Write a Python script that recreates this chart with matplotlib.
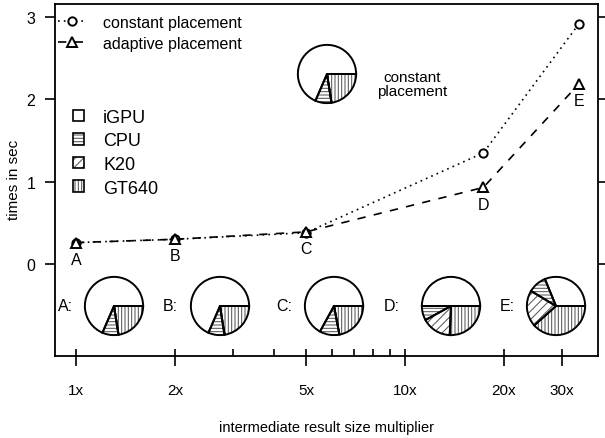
import matplotlib
matplotlib.use("Agg")
import matplotlib.pyplot as plt
from matplotlib.patches import Patch
from matplotlib.ticker import FixedLocator, NullFormatter

plt.rcParams['font.family'] = ['Liberation Sans', 'DejaVu Sans']
plt.rcParams['hatch.linewidth'] = 0.75

# data
multiplier = [1, 2, 5, 17.3, 33.8]
letters = ['A', 'B', 'C', 'D', 'E']
constant = [0.26, 0.30, 0.38, 1.35, 2.92]
adaptive = [0.26, 0.30, 0.39, 0.93, 2.19]

devices = ['iGPU', 'CPU', 'K20', 'GT640']
hatches = ['', '-----', '////', '|||||']
share_constant = [0.685, 0.09, 0.0, 0.225]
share_A = [0.685, 0.09, 0.0, 0.225]
share_B = [0.685, 0.09, 0.0, 0.225]
share_C = [0.67, 0.11, 0.0, 0.22]
share_D = [0.50, 0.08, 0.163, 0.257]
share_E = [0.312, 0.102, 0.202, 0.384]

xticks = [1, 2, 5, 10, 20, 30]
xticklabels = ['1x', '2x', '5x', '10x', '20x', '30x']
yticks = [0, 1, 2, 3]

W, H = 605, 439
fig = plt.figure(figsize=(W / 100, H / 100), dpi=100)


def fx(px):
    return px / W


def fy(py):
    return 1 - py / H


ax = fig.add_axes([fx(55), fy(357), fx(543), 352 / H])
ax.set_xscale('log')
ax.set_xlim(0.863, 38.6)
ax.set_ylim(-1.118, 3.159)

ax.plot(multiplier, constant, linestyle=(0, (1, 2.5)), color='black', lw=1.2,
        marker='o', ms=6, mfc='white', mec='black', mew=1.4,
        label='constant placement')
ax.plot(multiplier, adaptive, linestyle=(0, (5, 5)), color='black', lw=1.2,
        marker='^', ms=7, mfc='white', mec='black', mew=1.4,
        label='adaptive placement')

for x, y, t in zip(multiplier, adaptive, letters):
    ax.annotate(t, (x, y), xytext=(0, -12), textcoords='offset points',
                ha='center', va='center', fontsize=11.5)

# axes styling
for s in ax.spines.values():
    s.set_linewidth(1.3)
ax.xaxis.set_major_locator(FixedLocator(xticks))
ax.set_xticklabels(xticklabels)
ax.xaxis.set_minor_locator(FixedLocator([1, 2, 3, 4, 5, 6, 7, 8, 9, 10, 20, 30]))
ax.xaxis.set_minor_formatter(NullFormatter())
ax.xaxis.remove_overlapping_locs = False
ax.tick_params(axis='x', which='major', direction='out', length=7.2, width=1.2,
               pad=12, labelsize=11)
ax.tick_params(axis='x', which='minor', direction='in', length=5, width=1.2)
ax.set_yticks(yticks)
ax.tick_params(axis='y', which='major', direction='out', length=7.2, width=1.2,
               pad=7, labelsize=11.5, right=True, labelright=False)
ax.tick_params(axis='y', which='minor', left=False, right=False)

fig.text(fx(14), fy(180), 'times in sec', rotation=90, ha='center', va='center',
         fontsize=11)
fig.text(fx(326), fy(428), 'intermediate result size multiplier', ha='center',
         va='center', fontsize=10.5)

# line legend
leg1 = ax.legend(loc='upper left', bbox_to_anchor=(fx(58), fy(16)),
                 bbox_transform=fig.transFigure, frameon=False, fontsize=11.5,
                 borderpad=0, borderaxespad=0, handlelength=1.75,
                 handletextpad=1.05, labelspacing=0.35)
ax.add_artist(leg1)

# device legend
handles = []
for h in hatches:
    hatched = Patch(facecolor='white', edgecolor='0.35', hatch=h, linewidth=0)
    border = Patch(facecolor='none', edgecolor='black', linewidth=1.2)
    handles.append((hatched, border))
leg2 = ax.legend(handles, devices, loc='upper left',
                 bbox_to_anchor=(fx(73), fy(110)), bbox_transform=fig.transFigure,
                 frameon=False, fontsize=13, borderpad=0, borderaxespad=0,
                 handlelength=0.62, handleheight=0.6, handletextpad=1.05,
                 labelspacing=0.36)


def draw_pie(cx, cy, shares, r=30):
    pax = fig.add_axes([fx(cx - r), fy(cy + r), fx(2 * r), 2 * r / H])
    pax.pie(shares, colors=['white'] * 4, hatch=hatches, startangle=0,
            counterclock=True, wedgeprops=dict(edgecolor='0.35', linewidth=0))
    pax.pie(shares, startangle=0, counterclock=True,
            wedgeprops=dict(fill=False, edgecolor='black', linewidth=1.4))
    pax.set_xlim(-1.03, 1.03)
    pax.set_ylim(-1.03, 1.03)
    pax.set_aspect('equal')
    return pax


draw_pie(327, 75, share_constant)
fig.text(fx(412), fy(85), 'constant\nplacement', ha='center', va='center',
         fontsize=11, linespacing=1.0)

pie_shares = [share_A, share_B, share_C, share_D, share_E]
pie_cx = [114, 220, 334, 451, 556]
label_cx = [66, 170, 284, 392, 507]
for t, sh, cx, lx in zip(letters, pie_shares, pie_cx, label_cx):
    draw_pie(cx, 307, sh)
    fig.text(fx(lx), fy(307), t + ':', ha='center', va='center', fontsize=11.5)

fig.savefig('out.png', dpi=100)
